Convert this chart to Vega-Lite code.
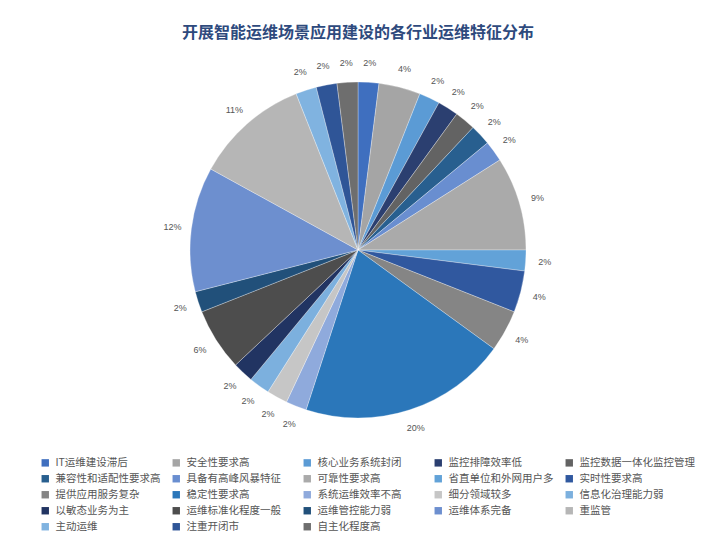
{
  "$schema": "https://vega.github.io/schema/vega-lite/v6.json",
  "autosize": "none",
  "width": 500,
  "height": 336,
  "padding": {"left": 108, "top": 82, "right": 99, "bottom": 130},
  "background": "white",
  "title": {
    "text": "开展智能运维场景应用建设的各行业运维特征分布",
    "font": "Noto Sans CJK SC",
    "fontSize": 16,
    "fontWeight": "bold",
    "color": "#2e4a7d",
    "anchor": "middle",
    "offset": 18
  },
  "config": {
    "view": {"stroke": null},
    "font": "Noto Sans CJK SC"
  },
  "data": {
    "values": [
      {"idx": 1, "trait": "IT运维建设滞后", "value": 0.02},
      {"idx": 2, "trait": "安全性要求高", "value": 0.04},
      {"idx": 3, "trait": "核心业务系统封闭", "value": 0.02},
      {"idx": 4, "trait": "监控排障效率低", "value": 0.02},
      {"idx": 5, "trait": "监控数据一体化监控管理", "value": 0.02},
      {"idx": 6, "trait": "兼容性和适配性要求高", "value": 0.02},
      {"idx": 7, "trait": "具备有高峰风暴特征", "value": 0.02},
      {"idx": 8, "trait": "可靠性要求高", "value": 0.09},
      {"idx": 9, "trait": "省直单位和外网用户多", "value": 0.02},
      {"idx": 10, "trait": "实时性要求高", "value": 0.04},
      {"idx": 11, "trait": "提供应用服务复杂", "value": 0.04},
      {"idx": 12, "trait": "稳定性要求高", "value": 0.20},
      {"idx": 13, "trait": "系统运维效率不高", "value": 0.02},
      {"idx": 14, "trait": "细分领域较多", "value": 0.02},
      {"idx": 15, "trait": "信息化治理能力弱", "value": 0.02},
      {"idx": 16, "trait": "以敏态业务为主", "value": 0.02},
      {"idx": 17, "trait": "运维标准化程度一般", "value": 0.06},
      {"idx": 18, "trait": "运维管控能力弱", "value": 0.02},
      {"idx": 19, "trait": "运维体系完备", "value": 0.12},
      {"idx": 20, "trait": "重监管", "value": 0.11},
      {"idx": 21, "trait": "主动运维", "value": 0.02},
      {"idx": 22, "trait": "注重开闭市", "value": 0.02},
      {"idx": 23, "trait": "自主化程度高", "value": 0.02}
    ]
  },
  "encoding": {
    "theta": {"field": "value", "type": "quantitative", "stack": true},
    "order": {"field": "idx", "type": "quantitative"}
  },
  "layer": [
    {
      "mark": {"type": "arc", "outerRadius": 168, "stroke": "#ffffff", "strokeWidth": 0.3},
      "encoding": {
        "color": {
          "field": "trait",
          "type": "nominal",
          "scale": {
            "domain": ["IT运维建设滞后", "安全性要求高", "核心业务系统封闭", "监控排障效率低", "监控数据一体化监控管理", "兼容性和适配性要求高", "具备有高峰风暴特征", "可靠性要求高", "省直单位和外网用户多", "实时性要求高", "提供应用服务复杂", "稳定性要求高", "系统运维效率不高", "细分领域较多", "信息化治理能力弱", "以敏态业务为主", "运维标准化程度一般", "运维管控能力弱", "运维体系完备", "重监管", "主动运维", "注重开闭市", "自主化程度高"],
            "range": ["#3f6fbf", "#a5a5a5", "#5b9bd5", "#2b3f70", "#636363", "#285f8f", "#698ed0", "#aaaaaa", "#62a2d8", "#30589f", "#858585", "#2b77ba", "#8faadc", "#c6c6c6", "#7cb0de", "#213462", "#4d4d4d", "#21507a", "#6d8fcf", "#b6b6b6", "#80b3e0", "#2f5597", "#6e6e6e"]
          },
          "legend": {
            "title": null,
            "orient": "none",
            "legendX": -68,
            "legendY": 375.5,
            "direction": "horizontal",
            "columns": 5,
            "gridAlign": "all",
            "columnPadding": -3,
            "rowPadding": 5,
            "symbolType": "square",
            "symbolSize": 55,
            "symbolStrokeWidth": 0,
            "labelFontSize": 10.5,
            "labelColor": "#555555",
            "labelFont": "Noto Sans CJK SC",
            "labelLimit": 200,
            "labelOffset": 5
          }
        }
      }
    },
    {
      "mark": {"type": "text", "radius": 187, "fontSize": 9, "color": "#555555", "font": "Liberation Sans"},
      "encoding": {
        "text": {"field": "value", "type": "quantitative", "format": ".0%"}
      }
    }
  ]
}
